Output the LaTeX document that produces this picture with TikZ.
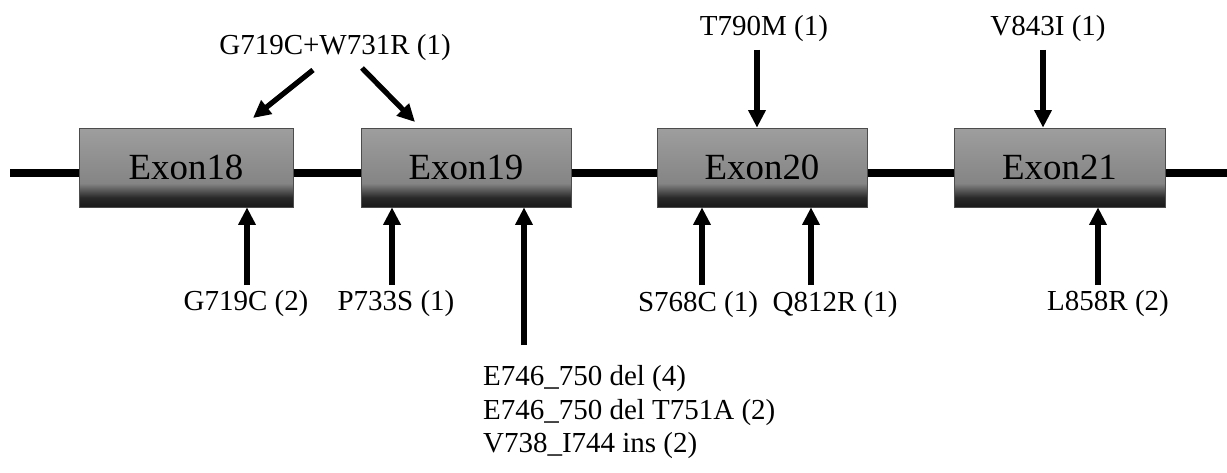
\documentclass[tikz,border=0pt]{standalone}
\usepackage{fontspec}
\setmainfont{Liberation Serif}
\usetikzlibrary{arrows.meta, positioning}
\pgfdeclareverticalshading{exonshade}{100bp}{color(0bp)=(black!90); color(25bp)=(black!90); color(31bp)=(black!84); color(40bp)=(black!48); color(75bp)=(black!38); color(100bp)=(black!38)}

\begin{document}
\begin{tikzpicture}[
    x=0.02cm, y=-0.02cm,
    every node/.style={font=\fontsize{16.5}{19}\selectfont},
    exon/.style={draw=black!70, line width=0.4pt, shading=exonshade, minimum height=1.58cm, inner sep=0pt, font=\fontsize{21}{25}\selectfont},
    arr/.style={-{Triangle[length=10pt, width=9.5pt]}, line width=3pt},
    mut/.style={inner sep=1pt}
]
\useasboundingbox (0,0) rectangle (1227,473);

% gene backbone
\coordinate (start) at (10,173);
\coordinate (stop) at (1227,173);
\draw[line width=4.5pt] (start) -- (stop);

% exons
\node[exon, minimum width=4.28cm] (e18) at (186,167.5) {Exon18};
\node[exon, minimum width=4.2cm] (e19) at (466,167.5) {Exon19};
\node[exon, minimum width=4.2cm] (e20) at (762,167.5) {Exon20};
\node[exon, minimum width=4.22cm] (e21) at (1059.5,167.5) {Exon21};

% mutations above
\node[mut] (gw) at (335,48) {G719C+W731R (1)};
\node[mut] (t790) at (764,29) {T790M (1)};
\node[mut] (v843) at (1048,29) {V843I (1)};

\coordinate (gwl) at (313,70);
\coordinate (gwlh) at (253,118);
\coordinate (gwr) at (362,68);
\coordinate (gwrh) at (415,122);
\draw[arr] (gwl) -- (gwlh);
\draw[arr] (gwr) -- (gwrh);
\coordinate (t790t) at (757,50);
\draw[arr] (t790t) -- (t790t |- e20.north);
\coordinate (v843t) at (1043,50);
\draw[arr] (v843t) -- (v843t |- e21.north);

% mutations below
\node[mut] (g719) at (246,304) {G719C (2)};
\node[mut] (p733) at (396,304) {P733S (1)};
\node[mut] (s768) at (698,305) {S768C (1)};
\node[mut] (q812) at (835,305) {Q812R (1)};
\node[mut] (l858) at (1108,304) {L858R (2)};
\node[mut, anchor=west] (del1) at (481,379) {E746\_750 del (4)};
\node[mut, anchor=west] (del2) at (481,413) {E746\_750 del T751A (2)};
\node[mut, anchor=west] (ins) at (481,446) {V738\_I744 ins (2)};

\coordinate (g719t) at (247,285);
\draw[arr] (g719t) -- (g719t |- e18.south);
\coordinate (p733t) at (392,285);
\draw[arr] (p733t) -- (p733t |- e19.south);
\coordinate (delt) at (524,345);
\draw[arr] (delt) -- (delt |- e19.south);
\coordinate (s768t) at (702,285);
\draw[arr] (s768t) -- (s768t |- e20.south);
\coordinate (q812t) at (811,285);
\draw[arr] (q812t) -- (q812t |- e20.south);
\coordinate (l858t) at (1098,285);
\draw[arr] (l858t) -- (l858t |- e21.south);
\end{tikzpicture}
\end{document}
